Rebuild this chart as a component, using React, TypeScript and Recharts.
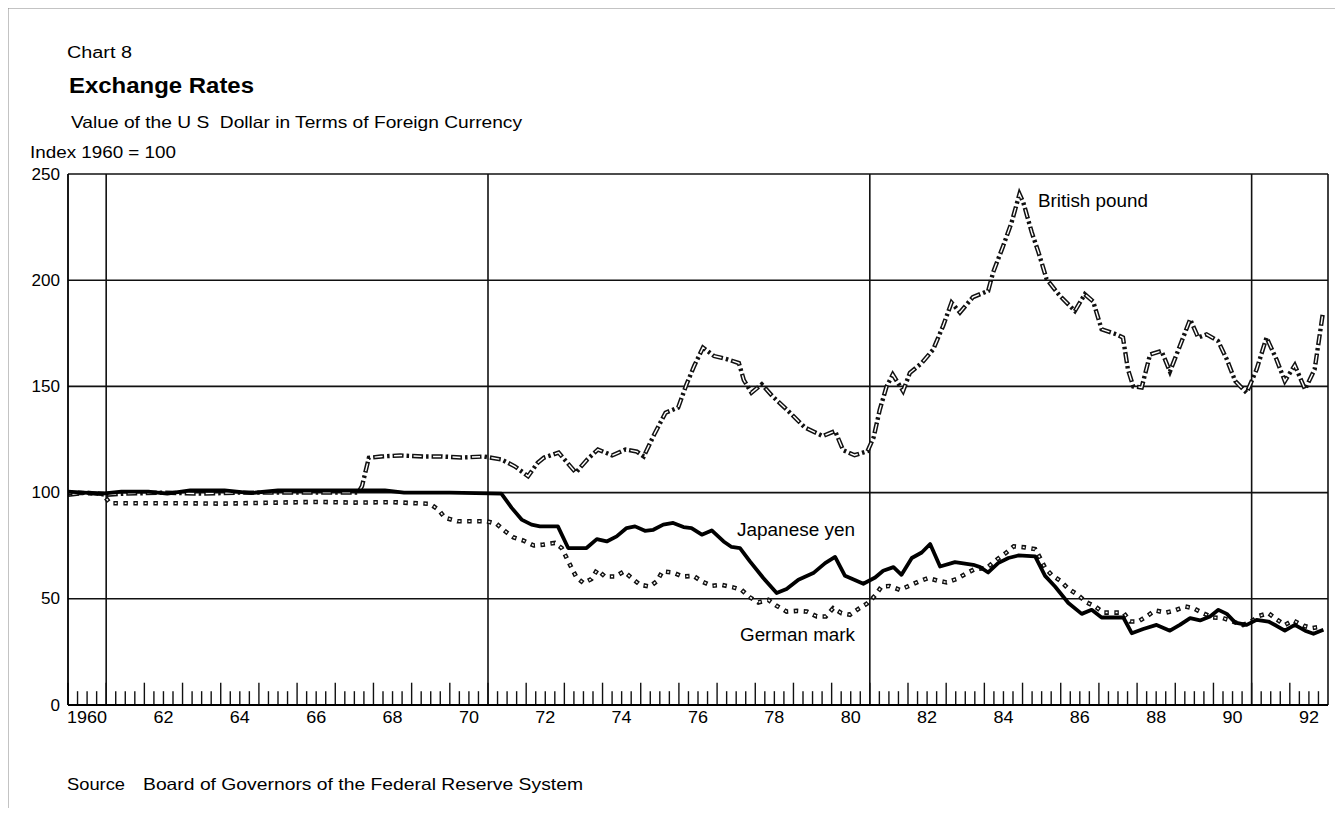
import React from "react";
import { LineChart, Line, XAxis, YAxis, ReferenceLine } from "recharts";

const FONT = "'Liberation Sans', Arial, Helvetica, sans-serif";

// [year, index 1960 = 100]
const pound: [number, number][] = [
  [1960, 99], [1960.5, 100], [1961, 99], [1961.5, 99.5], [1962.5, 100], [1963.5, 99.5],
  [1964.5, 100], [1965.5, 100], [1966.5, 100], [1967.6, 100], [1967.7, 103], [1967.88, 116.4],
  [1968.2, 117], [1968.7, 117.5], [1969.3, 117], [1969.8, 117], [1970.3, 116.5], [1970.9, 117],
  [1971.35, 115.6], [1971.7, 112.4], [1972.05, 107.7], [1972.3, 114], [1972.47, 116.5], [1972.85, 118.8],
  [1973.08, 114], [1973.3, 109.4], [1973.6, 115.6], [1973.88, 120.3], [1974.25, 117.5], [1974.6, 120.3],
  [1974.9, 119.3], [1975.08, 117], [1975.37, 128], [1975.65, 137.6], [1975.98, 140], [1976.2, 151],
  [1976.4, 159.6], [1976.63, 168.3], [1976.92, 164.3], [1977.23, 163], [1977.57, 161], [1977.7, 153],
  [1977.9, 147], [1978.17, 151], [1978.45, 145.4], [1978.83, 139], [1979.3, 130.6], [1979.77, 126.6],
  [1980.09, 129], [1980.3, 120], [1980.6, 117.6], [1980.94, 119.5], [1981.1, 126], [1981.26, 139],
  [1981.44, 150], [1981.6, 155.6], [1981.87, 147.8], [1982.05, 156.4], [1982.36, 161], [1982.66, 167.4],
  [1982.92, 178.5], [1983.14, 189.5], [1983.36, 184.8], [1983.7, 192], [1984.1, 195], [1984.23, 203.7],
  [1984.49, 216], [1984.71, 227], [1984.92, 240.6], [1985.02, 236.6], [1985.24, 222.6], [1985.42, 213],
  [1985.63, 200.5], [1985.98, 192.6], [1986.37, 185.5], [1986.63, 193.4], [1986.85, 190], [1987.07, 176.9],
  [1987.46, 174.5], [1987.63, 173], [1987.76, 158], [1987.9, 150], [1988.12, 149.5], [1988.34, 165],
  [1988.64, 166.7], [1988.86, 157], [1989.12, 169], [1989.39, 181.6], [1989.6, 173], [1989.82, 174.5],
  [1990.12, 171.4], [1990.35, 162.7], [1990.57, 152.5], [1990.87, 147], [1991.13, 158], [1991.39, 173],
  [1991.65, 162.7], [1991.87, 152.5], [1992.13, 160], [1992.4, 148.6], [1992.65, 158], [1992.87, 185],
];

const yen: [number, number][] = [
  [1960, 100.5], [1960.4, 100], [1960.9, 99.5], [1961.4, 100.5], [1962.1, 100.5], [1962.6, 99.5],
  [1963.2, 101], [1964.1, 101], [1964.8, 99.8], [1965.5, 101], [1966.5, 101], [1967.6, 101],
  [1968.3, 101], [1968.8, 100], [1970, 100], [1971.35, 99.5], [1971.62, 92.8], [1971.88, 87.3],
  [1972.14, 84.9], [1972.36, 84.1], [1972.83, 84.1], [1973.1, 73.9], [1973.58, 73.9], [1973.85, 78.1],
  [1974.11, 77], [1974.37, 79.4], [1974.63, 83.3], [1974.85, 84.1], [1975.11, 82], [1975.33, 82.5],
  [1975.59, 84.9], [1975.85, 85.7], [1976.12, 83.8], [1976.33, 83.3], [1976.6, 80.2], [1976.86, 82.2],
  [1977.17, 77], [1977.38, 74.4], [1977.6, 73.9], [1977.86, 67.6], [1978.21, 59.8], [1978.56, 52.7],
  [1978.82, 54.6], [1979.13, 59], [1979.52, 62.1], [1979.83, 66.8], [1980.09, 69.7], [1980.35, 60.8],
  [1980.83, 57.1], [1981.14, 60], [1981.35, 63.2], [1981.62, 64.9], [1981.83, 61.3], [1982.1, 69.2],
  [1982.36, 71.8], [1982.58, 75.8], [1982.84, 65.2], [1983.23, 67.3], [1983.71, 66], [1983.89, 64.9],
  [1984.1, 62.4], [1984.36, 66.8], [1984.63, 69.2], [1984.89, 70.4], [1985.33, 70], [1985.59, 60.8],
  [1985.85, 55.8], [1986.2, 48], [1986.55, 42.9], [1986.81, 44.8], [1987.07, 41.2], [1987.64, 41.2],
  [1987.86, 33.8], [1988.16, 35.8], [1988.51, 37.7], [1988.86, 35], [1989.12, 37.7], [1989.39, 40.9],
  [1989.65, 39.8], [1989.91, 41.7], [1990.13, 44.8], [1990.35, 42.9], [1990.57, 38.8], [1990.87, 37.7],
  [1991.13, 40.1], [1991.44, 39.3], [1991.65, 37.3], [1991.87, 35], [1992.13, 37.7], [1992.4, 35],
  [1992.62, 33.5], [1992.88, 35.4],
];

const mark: [number, number][] = [
  [1960, 100], [1960.9, 99.5], [1961.1, 95], [1962, 95], [1963, 95], [1964, 94.8],
  [1965.5, 95.3], [1966.5, 95.6], [1967.5, 95.3], [1968.5, 95.5], [1969.48, 94.7], [1969.7, 92],
  [1969.87, 88.2], [1970.2, 86.5], [1970.97, 86.5], [1971.23, 85.2], [1971.45, 81.8], [1971.67, 78.9],
  [1971.93, 77.4], [1972.2, 75.1], [1972.45, 75.5], [1972.75, 76.3], [1972.93, 73.9], [1973.06, 69.2],
  [1973.19, 64.5], [1973.32, 60], [1973.5, 57.4], [1973.71, 59.3], [1973.86, 63.7], [1974.06, 60.5],
  [1974.33, 60.5], [1974.56, 62.9], [1974.76, 59.8], [1974.98, 56.6], [1975.24, 55.8], [1975.42, 58.2],
  [1975.57, 62.9], [1975.84, 62.4], [1976.1, 60.5], [1976.38, 60.8], [1976.6, 58.2], [1976.86, 56.1],
  [1977.12, 56.6], [1977.4, 55.5], [1977.64, 54.2], [1977.85, 50.8], [1978.08, 48.3], [1978.34, 49.5],
  [1978.56, 46.7], [1978.82, 44], [1979.1, 44.3], [1979.35, 44], [1979.61, 41.7], [1979.85, 41.7],
  [1980.04, 45.6], [1980.26, 43.2], [1980.48, 42.5], [1980.73, 45.6], [1980.95, 48], [1981.14, 51.6],
  [1981.31, 55.8], [1981.52, 56], [1981.79, 54.2], [1982.03, 56.1], [1982.29, 58.2], [1982.53, 59.8],
  [1982.76, 58.6], [1983.01, 57.7], [1983.27, 59.3], [1983.51, 61.8], [1983.75, 64], [1984.06, 64.5],
  [1984.32, 68.4], [1984.58, 71.8], [1984.77, 74.7], [1985.06, 74.2], [1985.33, 73.4], [1985.46, 69.2],
  [1985.59, 64.5], [1985.76, 61.3], [1985.98, 58.6], [1986.2, 54.7], [1986.42, 52.2], [1986.68, 48.3],
  [1986.9, 46.4], [1987.12, 43.5], [1987.38, 43.5], [1987.64, 43.5], [1987.82, 39.3], [1988.03, 39.3],
  [1988.25, 41.7], [1988.47, 44.5], [1988.76, 43.5], [1988.99, 44.5], [1989.26, 46.4], [1989.47, 45.6],
  [1989.73, 43.2], [1989.99, 41.2], [1990.25, 40.9], [1990.51, 39.3], [1990.77, 37.7], [1990.99, 39.3],
  [1991.2, 42], [1991.44, 43.2], [1991.65, 40.4], [1991.87, 37.7], [1992.09, 39.8], [1992.36, 37.3],
  [1992.58, 36.2], [1992.84, 36.9],
];

const labelYears = [1960, 1962, 1964, 1966, 1968, 1970, 1972, 1974, 1976, 1978, 1980, 1982, 1984, 1986, 1988, 1990, 1992];
const gridYears = [1961, 1971, 1981, 1991];
const gridValues = [50, 100, 150, 200, 250];
const yTicks = [0, 50, 100, 150, 200, 250];

// quarterly tick marks along the bottom, longer at each year
const quarterTicks: number[] = [];
for (let y = 1960; y < 1993; y++) for (let q = 0; q < 4; q++) quarterTicks.push(y + q / 4);

const rows = (pts: [number, number][]) => pts.map(([year, value]) => ({ year, value }));

function XTick({ x, y, payload }: any) {
  const yr = Math.round(payload.value - 0.5);
  const label = yr === 1960 ? "1960" : String(yr).slice(2);
  return (
    <text x={x} y={y + 18} textAnchor="middle" fontSize={16} fontFamily={FONT} fill="#000"
      textLength={label.length * 10} lengthAdjust="spacingAndGlyphs">
      {label}
    </text>
  );
}

function YTick({ x, y, payload }: any) {
  const label = String(payload.value);
  return (
    <text x={x - 8} y={y + 5.5} textAnchor="end" fontSize={16} fontFamily={FONT} fill="#000"
      textLength={label.length * 9.5} lengthAdjust="spacingAndGlyphs">
      {label}
    </text>
  );
}

function T({ x, y, w, size = 16, bold = false, children }: any) {
  return (
    <text x={x} y={y} fontSize={size} fontWeight={bold ? "bold" : "normal"} fontFamily={FONT}
      fill="#000" textLength={w} lengthAdjust="spacingAndGlyphs">
      {children}
    </text>
  );
}

export default function App() {
  return (
    <div style={{ position: "relative", width: 1327, height: 800 }}>
      <LineChart width={1327} height={800} margin={{ top: 166, right: 7, left: 0, bottom: 73 }}>
        <XAxis type="number" dataKey="year" domain={[1960, 1993]} ticks={labelYears.map((y) => y + 0.5)}
          allowDataOverflow tick={<XTick />} tickLine={false} tickSize={0} tickMargin={0} height={30}
          axisLine={{ stroke: "#000", strokeWidth: 1.8 }} interval={0} />
        <YAxis type="number" domain={[0, 250]} ticks={yTicks} tick={<YTick />} tickLine={false}
          tickSize={0} tickMargin={0} width={60} axisLine={{ stroke: "#000", strokeWidth: 1.8 }} interval={0} />

        {gridValues.map((v) => (
          <ReferenceLine key={"h" + v} y={v} stroke="#111" strokeWidth={1.6} />
        ))}
        {gridYears.map((v) => (
          <ReferenceLine key={"v" + v} x={v} stroke="#111" strokeWidth={1.6} />
        ))}
        <ReferenceLine x={1993} stroke="#111" strokeWidth={1.6} />
        {quarterTicks.map((t) => (
          <ReferenceLine key={"t" + t} segment={[{ x: t, y: 0 }, { x: t, y: Number.isInteger(t) ? 10.5 : 6.5 }]}
            stroke="#111" strokeWidth={1.4} />
        ))}

        <Line data={rows(pound)} dataKey="value" name="British pound" type="linear" stroke="#111"
          strokeWidth={4.4} strokeDasharray="11 3 2.5 3" dot={false} isAnimationActive={false} />
        <Line data={rows(pound)} dataKey="value" name="British pound inner" type="linear" stroke="#fff"
          strokeWidth={1.4} strokeDasharray="8 11.5" strokeDashoffset={-1.5} dot={false} isAnimationActive={false} />
        <Line data={rows(mark)} dataKey="value" name="German mark" type="linear" stroke="#111"
          strokeWidth={4.6} strokeDasharray="4.5 5.5" dot={false} isAnimationActive={false} />
        <Line data={rows(mark)} dataKey="value" name="German mark inner" type="linear" stroke="#fff"
          strokeWidth={1.5} strokeDasharray="2 8" strokeDashoffset={-1.25} dot={false} isAnimationActive={false} />
        <Line data={rows(yen)} dataKey="value" name="Japanese yen" type="linear" stroke="#000"
          strokeWidth={3.8} strokeLinejoin="round" dot={false} isAnimationActive={false} />
      </LineChart>

      <svg width={1343} height={824} style={{ position: "absolute", left: -8, top: -8, pointerEvents: "none" }}>
        <line x1={8} y1={8} x2={1343} y2={8} stroke="#888" strokeWidth={1} />
        <line x1={8} y1={8} x2={8} y2={824} stroke="#888" strokeWidth={1} />

        <T x={67} y={58} w={65} size={16}>Chart 8</T>
        <T x={69} y={93} w={185} size={21.5} bold>Exchange Rates</T>
        <text x={71} y={128} fontSize={16.5} fontFamily={FONT} fill="#000" textLength={451}
          lengthAdjust="spacingAndGlyphs" style={{ whiteSpace: "pre" }}>
          {"Value of the U S  Dollar in Terms of Foreign Currency"}
        </text>
        <T x={30} y={158} w={146} size={16}>Index 1960 = 100</T>

        <T x={1038} y={207} w={110} size={17.5}>British pound</T>
        <T x={737} y={536} w={118} size={17.5}>Japanese yen</T>
        <T x={740} y={641} w={115} size={17.5}>German mark</T>

        <T x={67} y={790} w={58} size={16.5}>Source</T>
        <T x={143} y={790} w={440} size={16.5}>Board of Governors of the Federal Reserve System</T>
      </svg>
    </div>
  );
}
